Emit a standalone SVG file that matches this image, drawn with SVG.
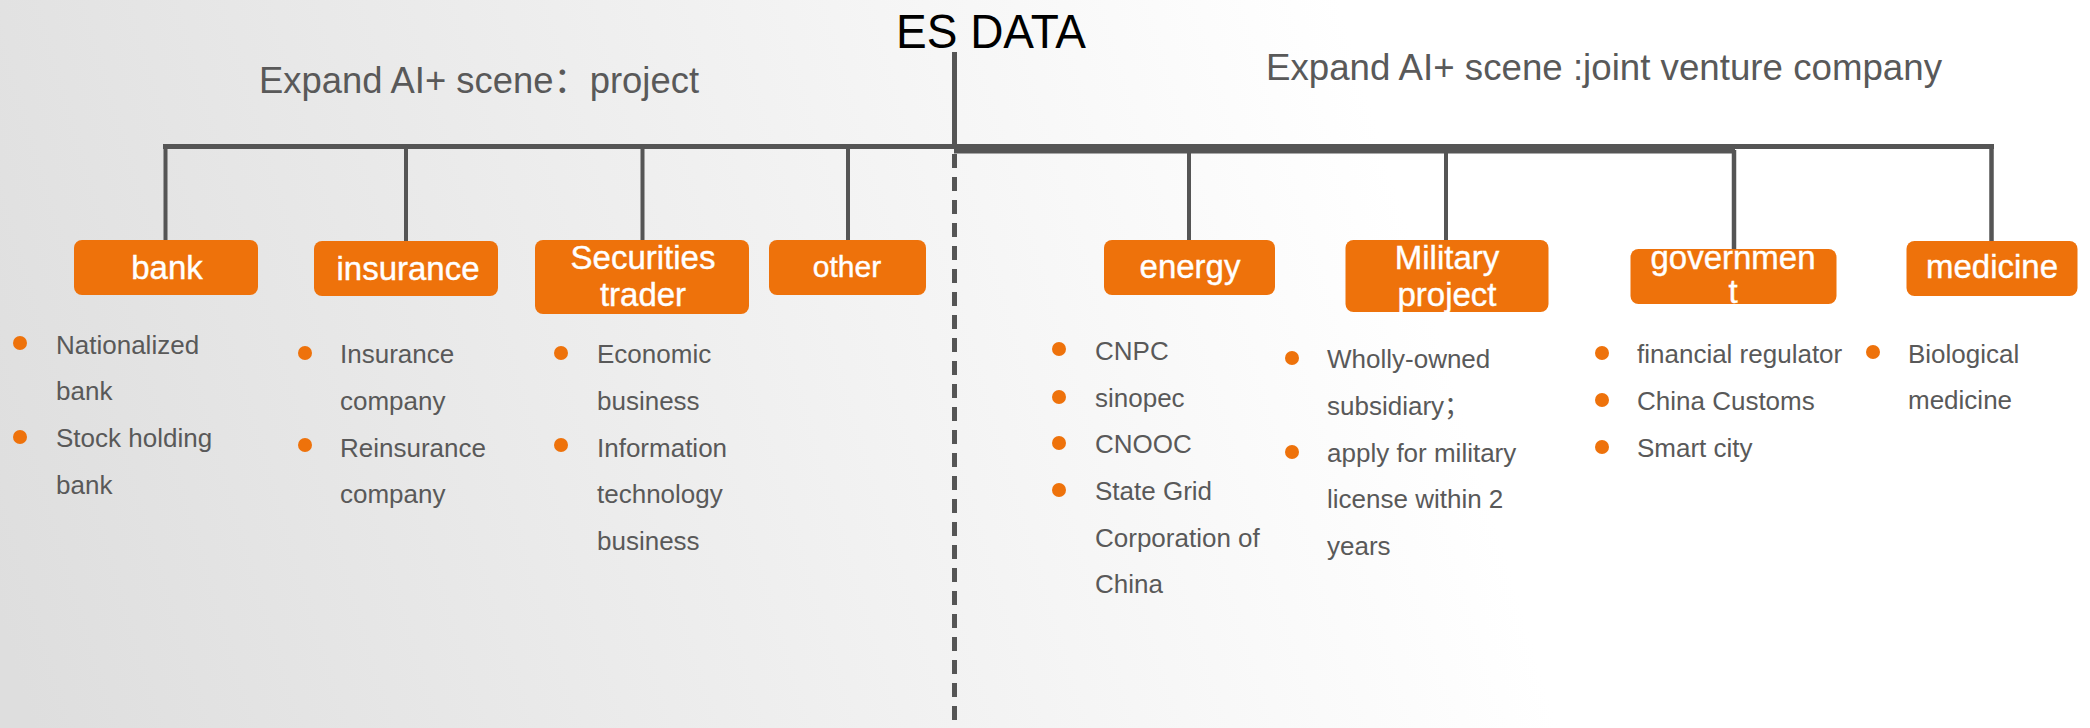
<svg xmlns="http://www.w3.org/2000/svg" width="2090" height="728" viewBox="0 0 2090 728">
<defs>
<linearGradient id="bg" gradientUnits="userSpaceOnUse" x1="0" y1="620" x2="1400" y2="200">
<stop offset="0" stop-color="#dedede"/>
<stop offset="1" stop-color="#ffffff"/>
</linearGradient>
<style>
.ttl{font-family:"Liberation Sans","Noto Sans CJK SC",sans-serif;font-size:36px;fill:#595959}
.box{fill:#EE720B}
.lbl{font-family:"Liberation Sans",Arial,sans-serif;font-size:33px;fill:#ffffff;text-anchor:middle;stroke:#ffffff;stroke-width:0.4}
.sm{font-size:30px}
.li{font-family:"Liberation Sans","Noto Sans CJK SC",sans-serif;font-size:26px;fill:#595959}
.dot{fill:#EE720B}
.ln{stroke:#555555;fill:none}
</style>
</defs>
<rect width="2090" height="728" fill="url(#bg)"/>

<text x="896" y="48" font-family="Liberation Sans, sans-serif" font-size="48" fill="#000" textLength="190" lengthAdjust="spacingAndGlyphs">ES DATA</text>
<text class="ttl" x="259" y="93" textLength="440" lengthAdjust="spacingAndGlyphs">Expand AI+ scene：project</text>
<text class="ttl" x="1266" y="80" textLength="676" lengthAdjust="spacingAndGlyphs">Expand AI+ scene :joint venture company</text>

<g id="connectors">
<line class="ln" x1="954.5" y1="52" x2="954.5" y2="148" stroke-width="5"/>
<line class="ln" x1="163" y1="146.5" x2="1994" y2="146.5" stroke-width="5"/>
<rect x="954" y="144" width="781" height="9.5" fill="#555555"/>
<line class="ln" x1="954.5" y1="154" x2="954.5" y2="728" stroke-width="5" stroke-dasharray="14 9"/>
<line class="ln" x1="165.5" y1="146" x2="165.5" y2="241" stroke-width="4"/>
<line class="ln" x1="406" y1="146" x2="406" y2="242" stroke-width="4"/>
<line class="ln" x1="642.5" y1="146" x2="642.5" y2="241" stroke-width="4"/>
<line class="ln" x1="848" y1="146" x2="848" y2="241" stroke-width="4"/>
<line class="ln" x1="1189" y1="150" x2="1189" y2="241" stroke-width="4"/>
<line class="ln" x1="1446" y1="150" x2="1446" y2="241" stroke-width="4"/>
<line class="ln" x1="1734" y1="150" x2="1734" y2="250" stroke-width="4.5"/>
<line class="ln" x1="1991.5" y1="146" x2="1991.5" y2="242" stroke-width="4.5"/>
</g>

<g id="bank">
<rect class="box" x="74" y="240" width="184" height="55" rx="8"/>
<text class="lbl" x="167" y="279">bank</text>
<circle class="dot" cx="20" cy="343" r="7"/>
<text class="li" x="56" y="354">Nationalized</text>
<text class="li" x="56" y="400">bank</text>
<circle class="dot" cx="20" cy="437" r="7"/>
<text class="li" x="56" y="447">Stock holding</text>
<text class="li" x="56" y="494">bank</text>
</g>

<g id="insurance">
<rect class="box" x="314" y="241" width="184" height="55" rx="8"/>
<text class="lbl" x="408" y="280">insurance</text>
<circle class="dot" cx="305" cy="353" r="7"/>
<text class="li" x="340" y="363">Insurance</text>
<text class="li" x="340" y="410">company</text>
<circle class="dot" cx="305" cy="445" r="7"/>
<text class="li" x="340" y="457">Reinsurance</text>
<text class="li" x="340" y="503">company</text>
</g>

<g id="securities">
<rect class="box" x="535" y="240" width="214" height="74" rx="8"/>
<text class="lbl" x="643" y="269">Securities</text>
<text class="lbl" x="643" y="306">trader</text>
<circle class="dot" cx="561" cy="353" r="7"/>
<text class="li" x="597" y="363">Economic</text>
<text class="li" x="597" y="410">business</text>
<circle class="dot" cx="561" cy="445" r="7"/>
<text class="li" x="597" y="457">Information</text>
<text class="li" x="597" y="503">technology</text>
<text class="li" x="597" y="550">business</text>
</g>

<g id="other">
<rect class="box" x="769" y="240" width="157" height="55" rx="8"/>
<text class="lbl sm" x="847" y="277">other</text>
</g>

<g id="energy">
<rect class="box" x="1104" y="240" width="171" height="55" rx="8"/>
<text class="lbl" x="1190" y="278">energy</text>
<circle class="dot" cx="1059" cy="349" r="7"/>
<text class="li" x="1095" y="360">CNPC</text>
<circle class="dot" cx="1059" cy="397" r="7"/>
<text class="li" x="1095" y="407">sinopec</text>
<circle class="dot" cx="1059" cy="443" r="7"/>
<text class="li" x="1095" y="453">CNOOC</text>
<circle class="dot" cx="1059" cy="490" r="7"/>
<text class="li" x="1095" y="500">State Grid</text>
<text class="li" x="1095" y="547">Corporation of</text>
<text class="li" x="1095" y="593">China</text>
</g>

<g id="military">
<rect class="box" x="1345.5" y="240" width="203" height="72" rx="8"/>
<text class="lbl" x="1447" y="269">Military</text>
<text class="lbl" x="1447" y="306">project</text>
<circle class="dot" cx="1292" cy="358" r="7"/>
<text class="li" x="1327" y="368">Wholly-owned</text>
<text class="li" x="1327" y="415">subsidiary；</text>
<circle class="dot" cx="1292" cy="452" r="7"/>
<text class="li" x="1327" y="462">apply for military</text>
<text class="li" x="1327" y="508">license within 2</text>
<text class="li" x="1327" y="555">years</text>
</g>

<g id="government">
<rect class="box" x="1630.5" y="249" width="206" height="55" rx="8"/>
<text class="lbl" x="1733" y="269">governmen</text>
<text class="lbl" x="1733" y="303">t</text>
<circle class="dot" cx="1602" cy="353" r="7"/>
<text class="li" x="1637" y="363">financial regulator</text>
<circle class="dot" cx="1602" cy="400" r="7"/>
<text class="li" x="1637" y="410">China Customs</text>
<circle class="dot" cx="1602" cy="447" r="7"/>
<text class="li" x="1637" y="457">Smart city</text>
</g>

<g id="medicine">
<rect class="box" x="1906.5" y="241" width="171" height="55" rx="8"/>
<text class="lbl" x="1992" y="278">medicine</text>
<circle class="dot" cx="1873" cy="352" r="7"/>
<text class="li" x="1908" y="363">Biological</text>
<text class="li" x="1908" y="409">medicine</text>
</g>
</svg>
